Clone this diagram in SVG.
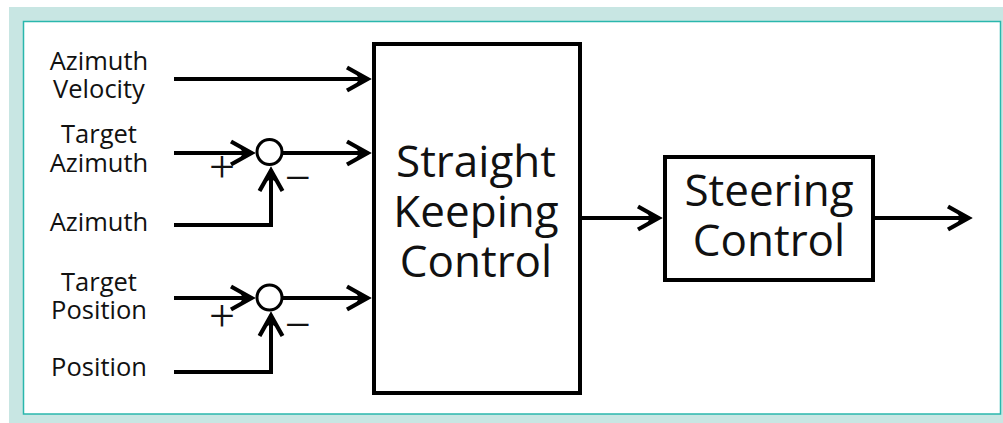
<svg xmlns="http://www.w3.org/2000/svg" width="1003" height="423" viewBox="0 0 1003 423">
<style>
.lbl{font-family:"Open Sans","Liberation Sans",sans-serif;font-size:25.5px;fill:#111;text-anchor:middle}
.big{font-family:"Open Sans","Liberation Sans",sans-serif;font-size:44px;fill:#111;text-anchor:middle}
.sgn{font-family:"Liberation Serif","Times New Roman",serif;font-size:46px;fill:#111;text-anchor:middle}
.box{fill:#fff;stroke:#000;stroke-width:4}
.ln{fill:none;stroke:#000;stroke-width:4}
.sum{fill:#fff;stroke:#000;stroke-width:3}
</style>
<defs>
<marker id="arr" markerUnits="userSpaceOnUse" viewBox="-30 -16 34 32" markerWidth="34" markerHeight="32" refX="-5" refY="0" orient="auto">
<path d="M-25,-11.5 L-4.5,0 L-25,11.5" fill="none" stroke="#000" stroke-width="4.2" stroke-linejoin="miter" stroke-miterlimit="10"/>
<path d="M-1,0 L-17,-7 L-13,0 L-17,7 Z" fill="#000"/>
</marker>
</defs>
<rect x="0" y="0" width="1003" height="423" fill="#fff"/>
<rect x="9" y="7" width="994" height="416" fill="#c8e6e3"/>
<rect x="23.5" y="21.5" width="977" height="392.5" fill="#fff" stroke="#2ab7ad" stroke-width="1.5"/>

<g id="connectors">
<path class="ln" d="M174,79 H367" marker-end="url(#arr)"/>
<path class="ln" d="M174,153 H251" marker-end="url(#arr)"/>
<path class="ln" d="M283,153 H367" marker-end="url(#arr)"/>
<path class="ln" d="M174,225 H271 V171" marker-end="url(#arr)"/>
<path class="ln" d="M174,298 H251" marker-end="url(#arr)"/>
<path class="ln" d="M283,298 H367" marker-end="url(#arr)"/>
<path class="ln" d="M174,372 H271 V316" marker-end="url(#arr)"/>
<path class="ln" d="M580,218 H658" marker-end="url(#arr)"/>
<path class="ln" d="M875,218 H968" marker-end="url(#arr)"/>
</g>

<g id="label-azimuth-velocity">
<text class="lbl" x="99" y="70">Azimuth</text>
<text class="lbl" x="99" y="98">Velocity</text>
</g>
<g id="label-target-azimuth">
<text class="lbl" x="99" y="143">Target</text>
<text class="lbl" x="99" y="172">Azimuth</text>
</g>
<g id="label-azimuth">
<text class="lbl" x="99" y="231">Azimuth</text>
</g>
<g id="label-target-position">
<text class="lbl" x="99" y="291">Target</text>
<text class="lbl" x="99" y="319">Position</text>
</g>
<g id="label-position">
<text class="lbl" x="99" y="376">Position</text>
</g>

<g id="sum1">
<circle class="sum" cx="269.5" cy="152" r="12.5"/>
<text class="sgn" x="222" y="182">+</text>
<text class="sgn" x="298" y="193">−</text>
</g>
<g id="sum2">
<circle class="sum" cx="269.5" cy="297.5" r="12.5"/>
<text class="sgn" x="222" y="331">+</text>
<text class="sgn" x="298" y="340">−</text>
</g>

<g id="straight-keeping-control">
<rect class="box" x="374" y="44" width="206" height="349"/>
<text class="big" x="476" y="177">Straight</text>
<text class="big" x="476" y="227">Keeping</text>
<text class="big" x="476" y="277">Control</text>
</g>

<g id="steering-control">
<rect class="box" x="665" y="157" width="208" height="123"/>
<text class="big" x="769" y="206">Steering</text>
<text class="big" x="769" y="256">Control</text>
</g>
</svg>
